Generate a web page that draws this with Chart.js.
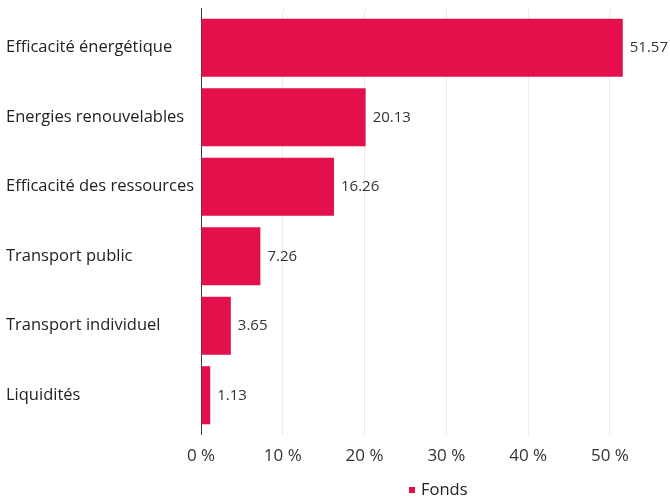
<!DOCTYPE html>
<html>
<head>
<meta charset="utf-8">
<script src="https://cdn.jsdelivr.net/npm/chart.js@4"></script>
<style>
  html, body { margin: 0; padding: 0; background: #fff; }
  #wrap { position: relative; width: 670px; height: 497px; }
  #legend { position: absolute; left: 409px; top: 477px; font-family: "Open Sans", sans-serif; font-size: 16.5px; color: #222; display: flex; align-items: center; white-space: nowrap; }
  #legend .sw { width: 6px; height: 6px; background: #e3104b; margin-right: 6px; margin-top: 2px; }
</style>
</head>
<body>
<div id="wrap">
  <canvas id="c"></canvas>
  <div id="legend"><span class="sw"></span><span>Fonds</span></div>
</div>
<script>
const categories = ["Efficacité énergétique", "Energies renouvelables", "Efficacité des ressources", "Transport public", "Transport individuel", "Liquidités"];
const fondsValues = [51.57, 20.13, 16.26, 7.26, 3.65, 1.13];
const xTickValues = [0, 10, 20, 30, 40, 50];
const seriesName = "Fonds";

const BAR_COLOR = "#e3104b";
const GRID_COLOR = "#ebebeb";
const AXIS_COLOR = "#3a3a3a";

const extras = {
  id: "extras",
  beforeDatasetsDraw(chart) {
    const ctx = chart.ctx, a = chart.chartArea, xs = chart.scales.x;
    ctx.save();
    ctx.lineWidth = 1;
    ctx.strokeStyle = GRID_COLOR;
    xs.ticks.forEach(t => {
      if (t.value === 0) return;
      const x = Math.round(xs.getPixelForValue(t.value)) + 0.5;
      ctx.beginPath(); ctx.moveTo(x, a.top - 5); ctx.lineTo(x, a.top); ctx.stroke();
    });
    const x0 = Math.round(xs.getPixelForValue(0)) + 0.5;
    ctx.strokeStyle = AXIS_COLOR;
    ctx.beginPath(); ctx.moveTo(x0, a.top - 5); ctx.lineTo(x0, a.top); ctx.stroke();
    ctx.beginPath(); ctx.moveTo(x0, a.bottom); ctx.lineTo(x0, a.bottom + 5); ctx.stroke();
    ctx.restore();
  },
  afterDatasetsDraw(chart) {
    const ctx = chart.ctx;
    ctx.save();
    ctx.font = "15px 'Open Sans', sans-serif";
    ctx.fillStyle = "#333";
    ctx.textBaseline = "middle";
    ctx.textAlign = "left";
    chart.getDatasetMeta(0).data.forEach((bar, i) => {
      ctx.fillText(fondsValues[i].toFixed(2), bar.x + 7, bar.y);
    });
    ctx.restore();
  }
};

new Chart(document.getElementById("c"), {
  type: "bar",
  data: {
    labels: categories,
    datasets: [{
      label: seriesName,
      data: fondsValues,
      backgroundColor: BAR_COLOR,
      borderWidth: 0,
      barPercentage: 0.836,
      categoryPercentage: 1
    }]
  },
  options: {
    indexAxis: "y",
    responsive: true,
    maintainAspectRatio: false,
    animation: false,
    layout: { padding: { left: 6, top: 13, right: 11, bottom: 0 } },
    plugins: { legend: { display: false }, tooltip: { enabled: false } },
    scales: {
      x: {
        min: 0, max: 56,
        afterBuildTicks(scale) { scale.ticks = xTickValues.map(v => ({ value: v })); },
        afterFit(scale) { scale.height = 67; },
        grid: {
          color: ctx => (ctx.tick && ctx.tick.value === 0) ? "rgba(0,0,0,0)" : GRID_COLOR,
          drawTicks: true, tickLength: 5, lineWidth: 1
        },
        border: { display: false },
        ticks: {
          padding: 11,
          color: "#333",
          font: { family: "'Open Sans', sans-serif", size: 17 },
          callback: v => v + " %",
          maxRotation: 0
        }
      },
      y: {
        afterFit(scale) { scale.width = 195; },
        grid: { display: false, drawTicks: false },
        border: { display: true, color: AXIS_COLOR, width: 1 },
        ticks: {
          crossAlign: "far",
          padding: 0,
          color: "#222",
          font: { family: "'Open Sans', sans-serif", size: 16.5 }
        }
      }
    }
  },
  plugins: [extras]
});
</script>
</body>
</html>
